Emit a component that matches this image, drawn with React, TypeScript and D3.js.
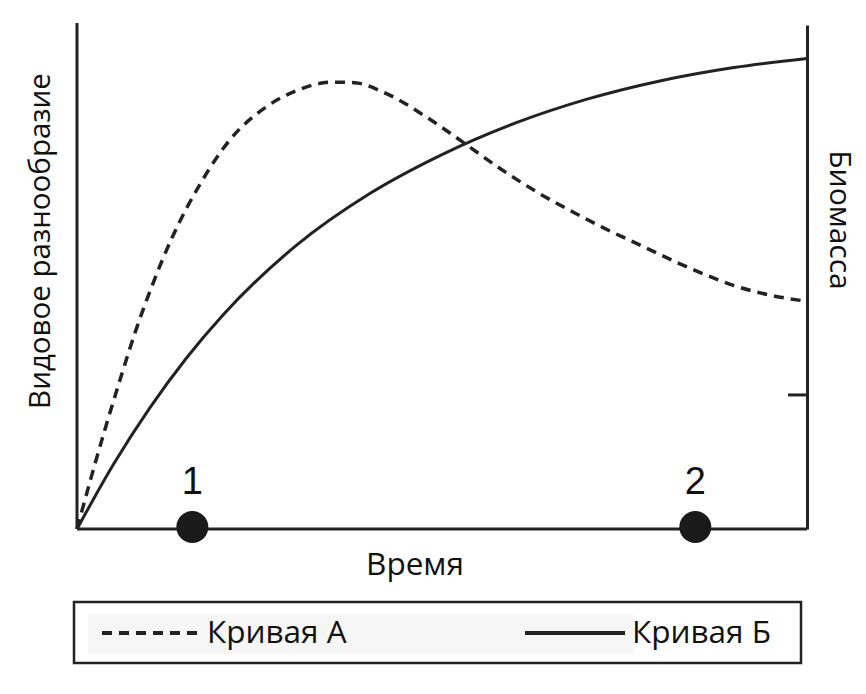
import React from 'react';
import * as d3 from 'd3';

// time (0..100) on x, relative value (0..100) on y
const curveATime = [0, 2, 4, 6, 8, 10, 13, 17, 21, 26, 30, 35, 38, 42, 48, 53, 58, 63, 68, 72, 77, 82, 86, 90, 95, 100];
const curveAValue = [0, 10.5, 20.5, 30, 39, 47, 57.5, 68.5, 77, 83.5, 86.6, 88.3, 88.2, 86.3, 81.3, 76.3, 71.2, 66.6, 62.6, 59.6, 56.2, 52.8, 50.3, 48.1, 46.2, 45];

const curveBTime = [0, 5, 10, 15, 20, 30, 40, 50, 60, 70, 80, 90, 100];
const curveBValue = [0, 12.8, 24, 33.8, 42.3, 56, 66.2, 74, 80.2, 85, 88.6, 91.2, 93];

const markerLabels = ['1', '2'];
const markerTimes = [15.8, 84.7];

const rightTicks = [26.7];

const legendLabels = ['Кривая А', 'Кривая Б'];

const width = 866;
const height = 694;
const margin = { top: 23, right: 59, bottom: 165, left: 77 };

const textFont = '"Open Sans", sans-serif';
const digitFont = '"Liberation Sans", Arial, sans-serif';

const App: React.FC = () => {
  const innerWidth = width - margin.left - margin.right;
  const innerHeight = height - margin.top - margin.bottom;

  const x = d3.scaleLinear().domain([0, 100]).range([0, innerWidth]);
  const y = d3.scaleLinear().domain([0, 100]).range([innerHeight, 0]);

  const line = d3.line<[number, number]>()
    .x(d => x(d[0]))
    .y(d => y(d[1]))
    .curve(d3.curveMonotoneX);

  const pathA = line(curveATime.map((t, i) => [t, curveAValue[i]])) ?? '';
  const pathB = line(curveBTime.map((t, i) => [t, curveBValue[i]])) ?? '';

  const rightAxisRef = (node: SVGGElement | null) => {
    if (!node) return;
    const g = d3.select(node);
    g.selectAll('*').remove();
    g.call(
      d3.axisLeft(d3.scaleLinear().domain([0, 100]).range([innerHeight, 2]))
        .tickValues(rightTicks)
        .tickSize(19)
        .tickSizeOuter(0)
        .tickFormat(() => '')
    );
    g.select('.domain').attr('stroke', '#222').attr('stroke-width', 3);
    g.selectAll('.tick line').attr('stroke', '#222').attr('stroke-width', 3);
  };

  const legendY = 633;

  return (
    <svg width={width} height={height} style={{ position: 'absolute', left: 0, top: 0 }}>
      <rect width={width} height={height} fill="#fff" />
      <g transform={`translate(${margin.left},${margin.top})`}>
        {/* axes */}
        <line x1={0} x2={0} y1={0} y2={innerHeight} stroke="#222" strokeWidth={3} />
        <line x1={0} x2={innerWidth} y1={innerHeight} y2={innerHeight} stroke="#222" strokeWidth={3} />
        <g ref={rightAxisRef} transform={`translate(${innerWidth},0)`} />

        {/* curves */}
        <path d={pathA} fill="none" stroke="#222" strokeWidth={3.5} strokeDasharray="10,7" />
        <path d={pathB} fill="none" stroke="#222" strokeWidth={3} />

        {/* stage markers */}
        {markerTimes.map((t, i) => (
          <g key={markerLabels[i]}>
            <circle cx={x(t)} cy={innerHeight - 2} r={16} fill="#1a1a1a" />
            <text
              x={x(t)}
              y={innerHeight - 35}
              textAnchor="middle"
              fontFamily={digitFont}
              fontSize={38}
              fill="#111"
            >
              {markerLabels[i]}
            </text>
          </g>
        ))}

        {/* axis titles */}
        <text
          x={innerWidth / 2 - 27}
          y={innerHeight + 46}
          textAnchor="middle"
          fontFamily={textFont}
          fontSize={31.5}
          fill="#111"
        >
          Время
        </text>
        <text
          transform={`translate(-27,${241 - margin.top}) rotate(-90)`}
          textAnchor="middle"
          fontFamily={textFont}
          fontSize={29.5}
          fill="#111"
        >
          Видовое разнообразие
        </text>
        <text
          transform={`translate(${innerWidth + 23},${220 - margin.top}) rotate(90)`}
          textAnchor="middle"
          fontFamily={textFont}
          fontSize={30}
          fill="#111"
        >
          Биомасса
        </text>
      </g>

      {/* legend */}
      <g>
        <rect x={74} y={602} width={727} height={61} fill="#fff" stroke="#222" strokeWidth={2.5} />
        <rect x={88} y={614} width={545} height={40} fill="#f6f6f6" />
        <line x1={102} x2={201} y1={legendY} y2={legendY} stroke="#222" strokeWidth={4} strokeDasharray="10,7" />
        <text x={207} y={legendY + 10} fontFamily={textFont} fontSize={31.5} fill="#111">
          {legendLabels[0]}
        </text>
        <line x1={525} x2={625} y1={legendY} y2={legendY} stroke="#222" strokeWidth={4} />
        <text x={632} y={legendY + 10} fontFamily={textFont} fontSize={31.5} fill="#111">
          {legendLabels[1]}
        </text>
      </g>
    </svg>
  );
};

export default App;
